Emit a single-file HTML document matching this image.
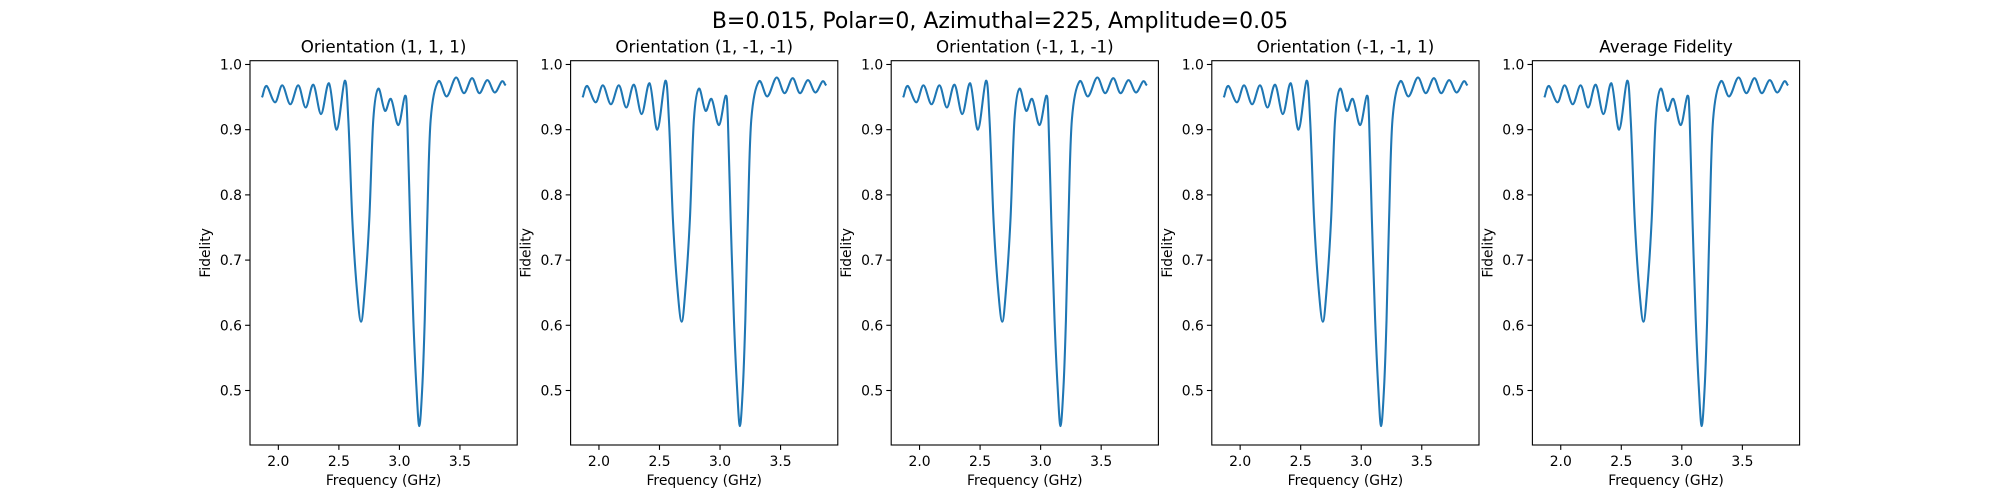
<!DOCTYPE html>
<html><head><meta charset="utf-8"><style>
html,body{margin:0;padding:0;background:#fff;}
svg{display:block;font-family:"DejaVu Sans","Liberation Sans",sans-serif;}
</style></head><body>
<svg id="fig" width="2000" height="500" viewBox="0 0 2000 500">
<rect width="2000" height="500" fill="#fff"/>
<text x="1000" y="28" font-size="22" text-anchor="middle" fill="#000">B=0.015, Polar=0, Azimuthal=225, Amplitude=0.05</text>
</svg>
<script>
const panelTitles = ["Orientation (1, 1, 1)", "Orientation (1, -1, -1)", "Orientation (-1, 1, -1)", "Orientation (-1, -1, 1)", "Average Fidelity"];
const freqs = [1.868,1.904,1.973,2.033,2.099,2.165,2.226,2.289,2.353,2.419,2.482,2.548,2.578,2.611,2.647,2.683,2.716,2.751,2.784,2.826,2.880,2.931,2.991,3.046,3.065,3.088,3.115,3.140,3.164,3.189,3.209,3.230,3.258,3.321,3.391,3.467,3.533,3.600,3.660,3.726,3.787,3.845,3.872];
const fid1 = [0.951,0.967,0.942,0.968,0.939,0.968,0.934,0.969,0.924,0.971,0.900,0.975,0.915,0.762,0.659,0.6055,0.659,0.762,0.915,0.963,0.929,0.947,0.907,0.952,0.915,0.762,0.608,0.506,0.4455,0.506,0.608,0.762,0.915,0.974,0.951,0.980,0.956,0.979,0.956,0.976,0.957,0.974,0.969];
const fid2 = fid1.slice();
const fid3 = fid1.slice();
const fid4 = fid1.slice();
const fidAvg = fid1.slice();
const seriesList = [fid1, fid2, fid3, fid4, fidAvg];
const xTicks = [2.0, 2.5, 3.0, 3.5];
const xTickLabels = ["2.0", "2.5", "3.0", "3.5"];
const yTicks = [0.5, 0.6, 0.7, 0.8, 0.9, 1.0];
const yTickLabels = ["0.5", "0.6", "0.7", "0.8", "0.9", "1.0"];

const NS = "http://www.w3.org/2000/svg";
const svg = document.getElementById("fig");
function mk(tag, attrs, parent){ const e=document.createElementNS(NS,tag); for(const k in attrs) e.setAttribute(k,attrs[k]); (parent||svg).appendChild(e); return e; }

const AX_W = 267.2, AX_GAP = 53.4, AX_L0 = 250, AX_T = 60.7, AX_B = 445;
const XMIN = 1.7659, XMAX = 3.9727, YMIN = 0.4164, YMAX = 1.0058;

for (let p = 0; p < 5; p++) {
  const L = AX_L0 + p*(AX_W+AX_GAP), R = L + AX_W;
  const xs = v => L + (v - XMIN)/(XMAX - XMIN)*AX_W;
  const ys = v => AX_B - (v - YMIN)/(YMAX - YMIN)*(AX_B - AX_T);
  const g = mk("g", {});
  
  

  const t = mk("text", {x:(L+R)/2, y:AX_T-8, "font-size":16.7, "text-anchor":"middle", fill:"#000"}, g);
  t.textContent = panelTitles[p];
  
  

  const sv = seriesList[p];
  const pts = freqs.map((f,i)=>[xs(f), ys(sv[i])]);
  let d = "M" + pts[0][0].toFixed(2) + "," + pts[0][1].toFixed(2);
  for (let i = 0; i < pts.length-1; i++) {
    const p0 = pts[Math.max(0,i-1)], p1 = pts[i], p2 = pts[i+1], p3 = pts[Math.min(pts.length-1,i+2)];
    const c1 = [p1[0]+(p2[0]-p0[0])/6, p1[1]+(p2[1]-p0[1])/6];
    const c2 = [p2[0]-(p3[0]-p1[0])/6, p2[1]-(p3[1]-p1[1])/6];
    d += " C" + c1[0].toFixed(2)+","+c1[1].toFixed(2)+" "+c2[0].toFixed(2)+","+c2[1].toFixed(2)+" "+p2[0].toFixed(2)+","+p2[1].toFixed(2);
  }
  const line = mk("path", {d:d, fill:"none", stroke:"#1f77b4", "stroke-width":2.08, "stroke-linejoin":"round", "stroke-linecap":"square"}, g);
  
  

  const frame = mk("rect", {x:L, y:AX_T, width:AX_W, height:AX_B-AX_T, fill:"none", stroke:"#000", "stroke-width":1.1}, g);
  
  

  xTicks.forEach((v,i)=>{
    const x = xs(v);
    mk("line", {x1:x, x2:x, y1:AX_B, y2:AX_B+4.9, stroke:"#000", "stroke-width":1.1}, g);
    const tl = mk("text", {x:x, y:AX_B+21, "font-size":13.9, "text-anchor":"middle", fill:"#000"}, g);
    tl.textContent = xTickLabels[i];
    
    
  });
  yTicks.forEach((v,i)=>{
    const y = ys(v);
    mk("line", {x1:L-4.9, x2:L, y1:y, y2:y, stroke:"#000", "stroke-width":1.1}, g);
    const tl = mk("text", {x:L-8, y:y+5, "font-size":13.9, "text-anchor":"end", fill:"#000"}, g);
    tl.textContent = yTickLabels[i];
    
    
  });
  const xl = mk("text", {x:(L+R)/2, y:485, "font-size":13.9, "text-anchor":"middle", fill:"#000"}, g);
  xl.textContent = "Frequency (GHz)";
  
  
  const yl = mk("text", {x:0, y:0, "font-size":13.9, "text-anchor":"middle", fill:"#000", transform:"translate("+(L-40)+","+((AX_T+AX_B)/2)+") rotate(-90)"}, g);
  yl.textContent = "Fidelity";
  
  
}
</script>
</body></html>
